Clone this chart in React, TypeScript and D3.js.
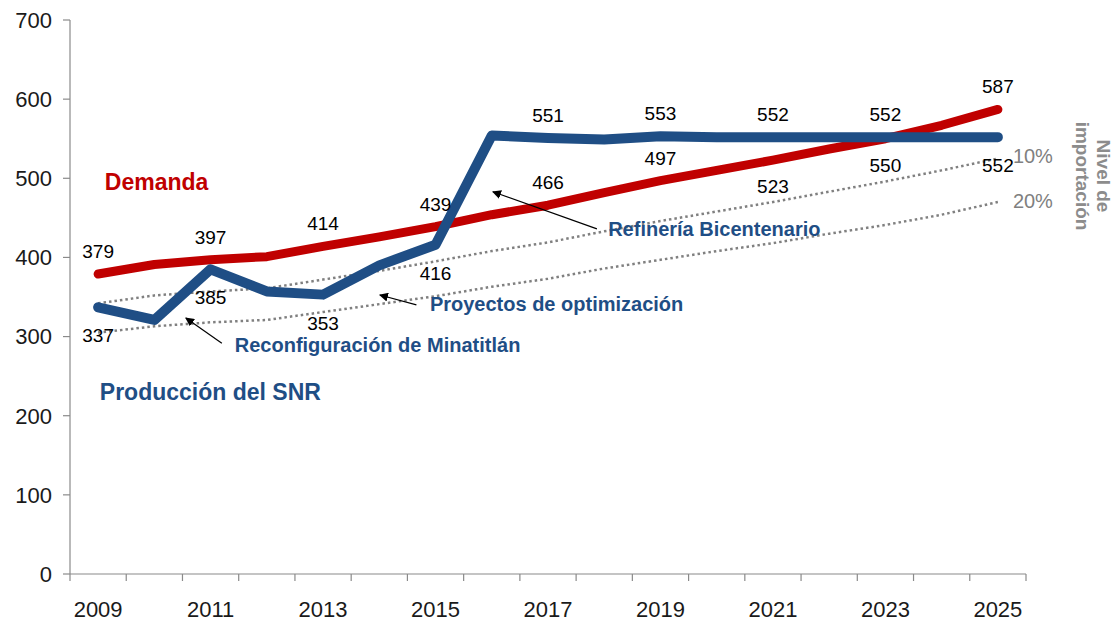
import React from "react";
import * as d3 from "d3";

const years = [2009, 2010, 2011, 2012, 2013, 2014, 2015, 2016, 2017, 2018, 2019, 2020, 2021, 2022, 2023, 2024, 2025];
const demanda = [379, 391, 397, 401, 414, 426, 439, 454, 466, 482, 497, 510, 523, 537, 550, 567, 587];
const produccion = [337, 321, 385, 357, 353, 390, 416, 554, 551, 549, 553, 552, 552, 552, 552, 552, 552];
const import10 = [342, 352, 357, 361, 372, 383, 395, 408, 419, 433, 446, 458, 470, 483, 496, 510, 525];
const import20 = [305, 313, 318, 321, 331, 341, 351, 363, 373, 386, 397, 408, 418, 430, 441, 454, 470];
const yTicks = [0, 100, 200, 300, 400, 500, 600, 700];
const xTickLabels = [2009, 2011, 2013, 2015, 2017, 2019, 2021, 2023, 2025];
const labeledYears = [2009, 2011, 2013, 2015, 2017, 2019, 2021, 2023, 2025];
const demandaLabelPos = ["above", "above", "above", "above", "above", "above", "below", "below", "above"];
const produccionLabelPos = ["below", "below", "below", "below", "above", "above", "above", "above", "below"];
const annotations = [
  { text: "Refinería Bicentenario", head: [2016.02, 483], tail: [2017.87, 436], at: [2018.07, 427] },
  { text: "Proyectos de optimización", head: [2014.01, 352.5], tail: [2014.66, 340], at: [2014.9, 332.5] },
  { text: "Reconfiguración de Minatitlán", head: [2010.56, 323.5], tail: [2011.2, 291.5], at: [2011.43, 281] },
];

const W = 1116;
const H = 622;
const FONT = "'Liberation Sans', Arial, sans-serif";
const RED = "#c00000";
const BLUE = "#1f4e85";
const GRAY = "#808080";

export default function App() {
  const x = d3.scaleLinear().domain([2008.5, 2025.5]).range([70, 1026]);
  const y = d3.scaleLinear().domain([0, 700]).range([574, 20]);
  const boundaries = d3.range(2008.5, 2026, 1);

  const line = (vals: number[]) =>
    d3.line<number>()
      .x((_, i) => x(years[i]))
      .y((v) => y(v))
      .curve(d3.curveLinear)(vals) as string;

  const axisColor = "#8a8a8a";

  return (
    <svg width={W} height={H} style={{ position: "absolute", left: 0, top: 0, background: "#fff" }} fontFamily={FONT}>
      <defs>
        <marker id="arr" viewBox="0 0 10 10" refX="9" refY="5" markerWidth="9" markerHeight="9" orient="auto-start-reverse" markerUnits="userSpaceOnUse">
          <path d="M0,0 L10,5 L0,10 z" fill="#000" />
        </marker>
      </defs>
      <rect width={W} height={H} fill="#fff" />
      {/* axes */}
      <line x1={70} x2={70} y1={y(700)} y2={y(0)} stroke={axisColor} strokeWidth={1.2} />
      <line x1={70} x2={1026} y1={y(0)} y2={y(0)} stroke={axisColor} strokeWidth={1.2} />
      {yTicks.map((t) => (
        <g key={t}>
          <line x1={63} x2={70} y1={y(t)} y2={y(t)} stroke={axisColor} strokeWidth={1.2} />
          <text x={52} y={y(t)} dy="0.36em" textAnchor="end" fontSize={22} fill="#1a1a1a">{t}</text>
        </g>
      ))}
      {boundaries.map((b) => (
        <line key={b} x1={x(b)} x2={x(b)} y1={y(0)} y2={y(0) + 7} stroke={axisColor} strokeWidth={1.2} />
      ))}
      {xTickLabels.map((t) => (
        <text key={t} x={x(t)} y={617} textAnchor="middle" fontSize={22} fill="#1a1a1a">{t}</text>
      ))}

      {/* dotted import lines */}
      <path d={line(import10)} fill="none" stroke={GRAY} strokeWidth={2.5} strokeDasharray="2.5,3" />
      <path d={line(import20)} fill="none" stroke={GRAY} strokeWidth={2.5} strokeDasharray="2.5,3" />
      <text x={x(2025) + 15} y={y(import10[import10.length - 1]) + 4} fontSize={20} fill={GRAY}>10%</text>
      <text x={x(2025) + 15} y={y(import20[import20.length - 1]) + 6} fontSize={20} fill={GRAY}>20%</text>

      {/* series lines */}
      <path d={line(demanda)} fill="none" stroke={RED} strokeWidth={9} strokeLinecap="round" strokeLinejoin="round" />
      <path d={line(produccion)} fill="none" stroke={BLUE} strokeWidth={10} strokeLinecap="round" strokeLinejoin="round" />

      {/* data labels */}
      {labeledYears.map((yr, i) => {
        const v = demanda[years.indexOf(yr)];
        const off = demandaLabelPos[i] === "above" ? -16 : 33;
        return (
          <text key={"d" + yr} x={x(yr)} y={y(v) + off} textAnchor="middle" fontSize={19} fill="#000">{v}</text>
        );
      })}
      {labeledYears.map((yr, i) => {
        const v = produccion[years.indexOf(yr)];
        const off = produccionLabelPos[i] === "above" ? -16 : 35;
        return (
          <text key={"p" + yr} x={x(yr)} y={y(v) + off} textAnchor="middle" fontSize={19} fill="#000">{v}</text>
        );
      })}

      {/* annotations */}
      {annotations.map((a) => (
        <g key={a.text}>
          <line x1={x(a.tail[0])} y1={y(a.tail[1])} x2={x(a.head[0])} y2={y(a.head[1])} stroke="#000" strokeWidth={1.2} markerEnd="url(#arr)" />
          <text x={x(a.at[0])} y={y(a.at[1])} fontSize={20} fontWeight="bold" fill={BLUE}>{a.text}</text>
        </g>
      ))}

      {/* series titles */}
      <text x={x(2009.12)} y={y(485)} fontSize={23} fontWeight="bold" fill={RED}>Demanda</text>
      <text x={x(2009.03)} y={y(220)} fontSize={23} fontWeight="bold" fill={BLUE}>Producción del SNR</text>

      {/* right side title */}
      <g transform="translate(1097,176) rotate(90)" fontWeight="bold" fontSize={19} fill="#8c8c8c">
        <text x={0} y={0} textAnchor="middle">Nivel de</text>
        <text x={0} y={21} textAnchor="middle">importación</text>
      </g>
    </svg>
  );
}
